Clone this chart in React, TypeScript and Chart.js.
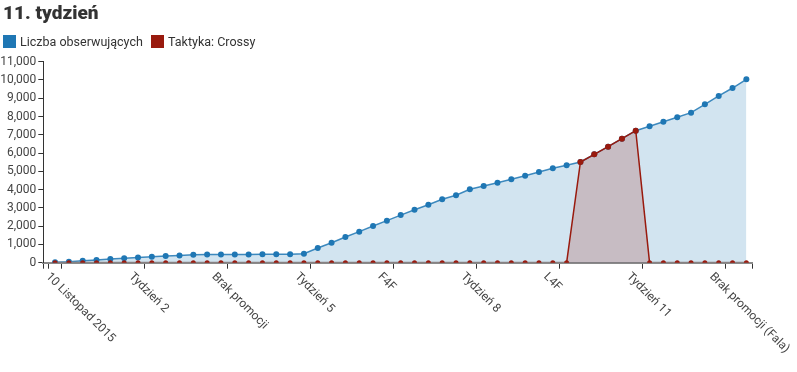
import React, { useEffect, useRef } from "react";
import { Chart, registerables } from "chart.js";

Chart.register(...registerables);

const chartTitle = "11. tydzień";
const seriesNames = ["Liczba obserwujących", "Taktyka: Crossy"];
const seriesColors = ["#1f77b4", "#991a0e"];

// x tick labels and their positions (in point-index units)
const tickLabels = [
  "10 Listopad 2015",
  "Tydzień 2",
  "Brak promocji",
  "Tydzień 5",
  "F4F",
  "Tydzień 8",
  "L4F",
  "Tydzień 11",
  "Brak promocji (Fala)",
];
const tickPositions = [0.5, 6.5, 12.5, 18.5, 24.5, 30.5, 36.5, 42.5, 48.5];

const followers = [
  20, 55, 110, 150, 200, 240, 290, 330, 370, 400,
  440, 445, 450, 452, 455, 458, 460, 465, 490,
  805, 1095, 1405, 1700, 2010, 2300, 2605, 2900, 3175, 3470, 3690,
  4015, 4200, 4380, 4565, 4760, 4965, 5165, 5330, 5510, 5930,
  6350, 6785, 7225, 7465, 7715, 7960, 8210, 8670, 9125, 9560, 10035,
];
const crossy = [
  0, 0, 0, 0, 0, 0, 0, 0, 0, 0,
  0, 0, 0, 0, 0, 0, 0, 0, 0,
  0, 0, 0, 0, 0, 0, 0, 0, 0, 0, 0,
  0, 0, 0, 0, 0, 0, 0, 0, 5510, 5930,
  6350, 6785, 7225, 0, 0, 0, 0, 0, 0, 0, 0,
];

const yMax = 11000;
const yStep = 1000;
const xMin = -0.85;
const xMax = 50.43;
const xDomainStart = -0.5;

const FONT = "Roboto, 'Open Sans', sans-serif";

const xLabelPlugin = {
  id: "xLabels",
  afterDraw(chart: any) {
    const ctx = chart.ctx;
    const xs = chart.scales.x;
    const bottom = chart.chartArea.bottom;
    ctx.save();
    ctx.font = `12px ${FONT}`;
    ctx.fillStyle = "#444";
    ctx.textAlign = "left";
    ctx.textBaseline = "top";
    tickLabels.forEach((lab, i) => {
      const px = xs.getPixelForValue(tickPositions[i]);
      ctx.save();
      ctx.translate(px - 10, bottom + 8);
      ctx.rotate(Math.PI / 4);
      ctx.fillText(lab, 0, 0);
      ctx.restore();
    });
    ctx.restore();
  },
};

export default function App() {
  const ref = useRef<HTMLCanvasElement | null>(null);

  useEffect(() => {
    if (!ref.current) return;
    const red = seriesColors[1];
    const chart = new Chart(ref.current, {
      type: "line",
      data: {
        datasets: [
          {
            label: seriesNames[1],
            data: crossy.map((v, i) => ({ x: i, y: v })),
            borderColor: red,
            backgroundColor: "rgba(153,26,14,0.2)",
            pointBackgroundColor: red,
            pointBorderColor: red,
            pointRadius: (c: any) => (c.raw && c.raw.y === 0 ? 2.5 : 3),
            pointBorderWidth: 0,
            borderWidth: 1.5,
            fill: "origin",
            tension: 0,
            order: 0,
            segment: {
              borderColor: (c: any) =>
                c.p0.parsed.y === 0 && c.p1.parsed.y === 0 ? "#8a8080" : red,
              borderWidth: (c: any) =>
                c.p0.parsed.y === 0 && c.p1.parsed.y === 0 ? 2 : 1.5,
            },
          },
          {
            label: seriesNames[0],
            data: followers.map((v, i) => ({ x: i, y: v })),
            borderColor: "rgba(31,119,180,0.85)",
            backgroundColor: "rgba(31,119,180,0.2)",
            pointBackgroundColor: seriesColors[0],
            pointBorderColor: seriesColors[0],
            pointRadius: 3,
            pointBorderWidth: 0,
            borderWidth: 1.5,
            fill: "origin",
            tension: 0,
            order: 1,
          },
        ],
      },
      options: {
        responsive: false,
        animation: false,
        events: [],
        layout: { padding: { left: 0, right: 797 - 752.3, top: 61.7, bottom: 0 } },
        plugins: {
          legend: { display: false },
          title: { display: false },
          tooltip: { enabled: false },
        },
        scales: {
          x: {
            type: "linear",
            min: xMin,
            max: xMax,
            afterBuildTicks: (s: any) => {
              s.ticks = [xMin, xDomainStart, ...tickPositions, xMax].map((v) => ({ value: v }));
            },
            afterFit: (s: any) => {
              s.height = 372 - 262.7;
            },
            ticks: { display: false },
            grid: {
              drawOnChartArea: false,
              drawTicks: true,
              tickLength: 6,
              color: "#333",
              lineWidth: 1,
            },
            border: { display: true, color: "#8a8a8a", width: 2 },
          },
          y: {
            type: "linear",
            min: 0,
            max: yMax,
            afterFit: (s: any) => {
              s.width = 43.3;
            },
            ticks: {
              stepSize: yStep,
              padding: 2,
              color: "#444",
              font: { family: FONT, size: 12 },
              callback: (v: any) => Number(v).toLocaleString("en-US"),
            },
            grid: {
              drawOnChartArea: false,
              drawTicks: true,
              tickLength: 5,
              color: "#333",
            },
            border: { display: true, color: "#333", width: 1 },
          },
        },
      },
      plugins: [xLabelPlugin],
    });
    return () => chart.destroy();
  }, []);

  return (
    <div
      style={{
        position: "absolute",
        left: 0,
        top: 0,
        width: 797,
        height: 372,
        background: "#fff",
        fontFamily: FONT,
      }}
    >
      <canvas
        ref={ref}
        width={797}
        height={372}
        style={{ position: "absolute", left: 0, top: 0, display: "block" }}
      />
      <div
        style={{
          position: "absolute",
          left: 3,
          top: 3,
          fontSize: 19,
          lineHeight: "20px",
          fontWeight: 900,
          color: "#333",
          whiteSpace: "nowrap",
        }}
      >
        {chartTitle}
      </div>
      {seriesNames.map((name, i) => (
        <div
          key={name}
          style={{
            position: "absolute",
            left: i === 0 ? 3 : 151,
            top: 34,
            height: 14,
            display: "flex",
            alignItems: "center",
            whiteSpace: "nowrap",
          }}
        >
          <span
            style={{
              display: "inline-block",
              width: 13,
              height: 13,
              background: seriesColors[i],
              marginRight: 4,
            }}
          />
          <span style={{ fontSize: 12.5, lineHeight: "13px", color: "#333" }}>{name}</span>
        </div>
      ))}
    </div>
  );
}
